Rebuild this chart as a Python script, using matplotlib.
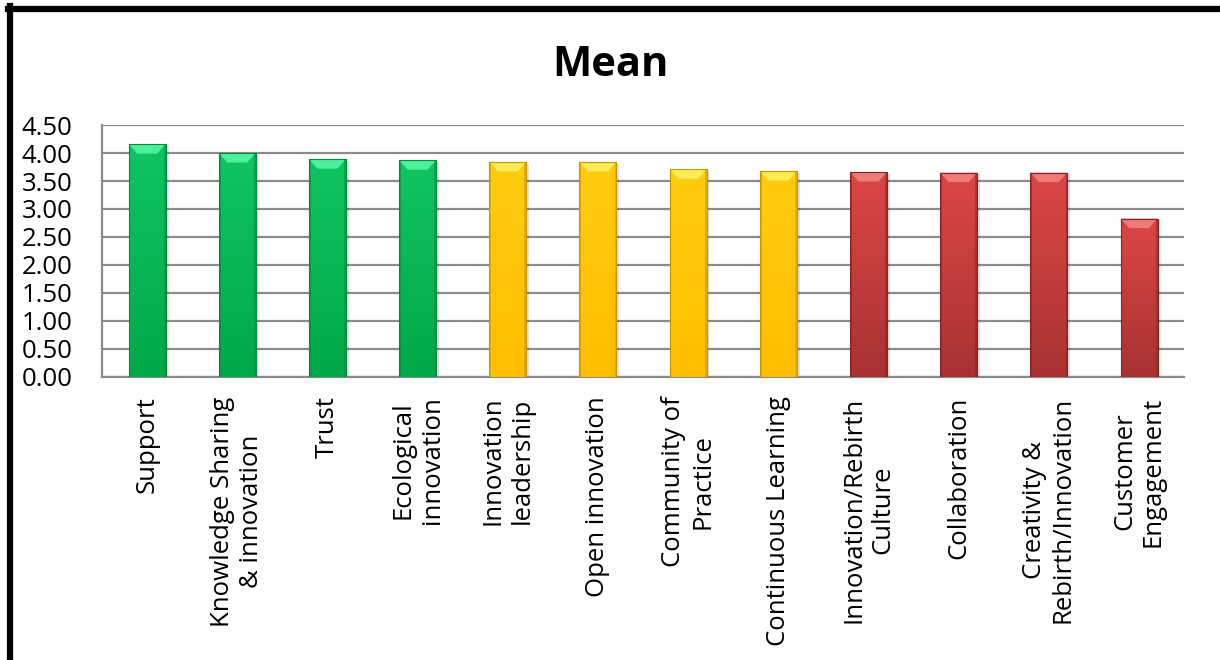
import numpy as np
import matplotlib
matplotlib.use("Agg")
import matplotlib.pyplot as plt
from matplotlib.lines import Line2D
from matplotlib.colors import LinearSegmentedColormap

plt.rcParams['font.family'] = ['Open Sans', 'DejaVu Sans']

labels = ["Support", "Knowledge Sharing\n& innovation", "Trust",
          "Ecological\ninnovation", "Innovation\nleadership", "Open innovation",
          "Community of\nPractice", "Continuous Learning",
          "Innovation/Rebirth\nCulture", "Collaboration",
          "Creativity &\nRebirth/Innovation", "Customer\nEngagement"]
means = [4.16, 4.00, 3.89, 3.87, 3.84, 3.84, 3.71, 3.68, 3.66, 3.65, 3.65, 2.83]
groups = ["green"] * 4 + ["yellow"] * 4 + ["red"] * 4
yticks = [0, 0.5, 1.0, 1.5, 2.0, 2.5, 3.0, 3.5, 4.0, 4.5]

# (top colour, bottom colour, bevel highlight, edge)
palette = {
    "green": ("#10C463", "#00A848", "#4DF09A", "#008A3A"),
    "yellow": ("#FFCC10", "#FFBE00", "#FFEC55", "#C89600"),
    "red": ("#DC4646", "#A83232", "#EE7A7A", "#8A2424"),
}

fig = plt.figure(figsize=(12.2, 6.6), dpi=100)
ax = fig.add_axes([0.0836, 0.4288, 0.887, 0.3818])

x = np.arange(len(means))
width = 0.41
bars = ax.bar(x, means, width=width, color="none", edgecolor="none", zorder=3)

bev_y = 0.17
bev_x = 0.095
for xi, h, g, b in zip(x, means, groups, bars):
    top, bot, hi, edge = palette[g]
    x0, x1 = xi - width / 2, xi + width / 2
    # soft shadow to the right
    ax.fill([x0 + 0.03, x1 + 0.03, x1 + 0.03, x0 + 0.03], [0, 0, h - 0.03, h - 0.03],
            color="#000000", alpha=0.12, lw=0, zorder=2)
    cmap = LinearSegmentedColormap.from_list("g", [bot, top])
    grad = np.linspace(0, 1, 64).reshape(-1, 1)
    im = ax.imshow(grad, cmap=cmap, origin="lower", aspect="auto",
                   extent=[x0, x1, 0, h], zorder=3)
    im.set_clip_path(b)
    # bevel on top and bottom
    ax.fill([x0, x1, x1 - bev_x, x0 + bev_x], [h, h, h - bev_y, h - bev_y],
            color=hi, lw=0, zorder=4)
    ax.fill([x0, x1, x1 - bev_x, x0 + bev_x], [0, 0, bev_y, bev_y],
            color=bot, lw=0, alpha=0.9, zorder=4)
    ax.fill([x0, x0 + 0.02, x0 + 0.02, x0], [0, 0, h, h], color=edge, lw=0, alpha=0.5, zorder=4)
    ax.fill([x1 - 0.02, x1, x1, x1 - 0.02], [0, 0, h, h], color=edge, lw=0, alpha=0.5, zorder=4)
    ax.plot([x0, x1, x1, x0, x0], [0, 0, h, h, 0], color=edge, lw=0.8, zorder=5)

ax.set_xlim(-0.5, len(means) - 0.5)
ax.set_ylim(0, 4.5)
ax.set_yticks(yticks)
ax.set_yticklabels([f"{v:.2f}" for v in yticks], fontsize=18.5)
ax.yaxis.grid(True, color="#8C8C8C", lw=1.6, zorder=0)
ax.set_axisbelow(True)
ax.tick_params(axis="y", length=0, pad=21)
ax.tick_params(axis="x", length=0, pad=14)
ax.set_xticks(x)
ax.set_xticklabels(labels, rotation=90, fontsize=18.5, va="top", ha="center", ma="center")
for s in ["top", "right"]:
    ax.spines[s].set_visible(False)
for s in ["left", "bottom"]:
    ax.spines[s].set_color("#8C8C8C")
    ax.spines[s].set_linewidth(1.6)

fig.text(0.5, 0.9, "Mean", ha="center", va="center", fontsize=30, fontweight="bold")

# heavy frame on the top and left edges
fig.add_artist(Line2D([0.0082, 0.0082], [0, 0.991], color="black", lw=4.5))
fig.add_artist(Line2D([0.0065, 1.0], [0.9865, 0.9865], color="black", lw=4.5))

fig.savefig("out.png", dpi=100)
